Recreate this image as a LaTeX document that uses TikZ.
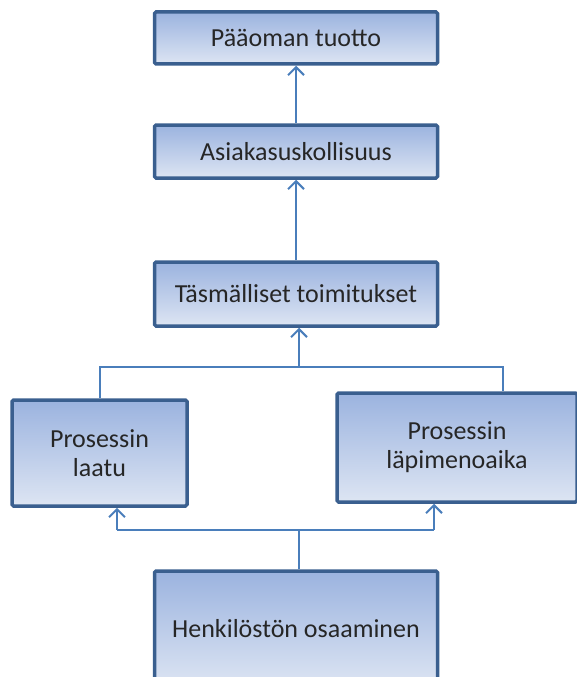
\documentclass[tikz,border=0pt]{standalone}
\usepackage{fontspec}
\setmainfont{Carlito}
\usepackage{tikz}
\usetikzlibrary{arrows.meta}

\definecolor{boxedge}{HTML}{3A5F8F}
\definecolor{boxtop}{HTML}{9BB3DF}
\definecolor{boxbottom}{HTML}{DDE5F3}
\definecolor{linkblue}{HTML}{4A7EBB}

\tikzset{
  kpibox/.style={rectangle, draw=boxedge, line width=3.5pt, rounded corners=1.5pt,
    top color=boxtop, bottom color=boxbottom, text=black!85,
    font=\fontsize{26}{29}\selectfont, align=center, inner sep=0pt},
  link/.style={linkblue, line width=2pt},
  uparrow/.style={link, -{Straight Barb[length=8pt,width=16pt,line width=2pt]}}
}

\begin{document}
\begin{tikzpicture}[x=1pt,y=-1pt]
\clip (0,0) rectangle (577,677);
\useasboundingbox (0,0) rectangle (577,677);

% Boxes
\node[kpibox, minimum width=283pt, minimum height=52pt] (tuotto) at (296,38) {Pääoman tuotto};
\node[kpibox, minimum width=283pt, minimum height=53pt] (uskoll) at (296,151.5) {Asiakasuskollisuus};
\node[kpibox, minimum width=283pt, minimum height=64pt] (toimit) at (296,294) {Täsmälliset toimitukset};
\node[kpibox, minimum width=175pt, minimum height=106pt] (laatu) at (99.5,453) {Prosessin\\laatu};
\node[kpibox, minimum width=240pt, minimum height=109pt] (lapi) at (457,447.5) {Prosessin\\läpimenoaika};
\node[kpibox, minimum width=283pt, minimum height=116pt] (osaam) at (296,629) {Henkilöstön osaaminen};

% Junction points
\coordinate (jtop) at (299,367);
\coordinate (rtop) at (503,367);
\coordinate (jbot) at (299,530);
\coordinate (lbot) at (117,530);
\coordinate (rbot) at (434,530);

% Upper links
\draw[uparrow] (uskoll) -- (tuotto);
\draw[uparrow] (toimit) -- (uskoll);
\draw[link] (laatu.north) |- (rtop) -- (rtop |- lapi.north);
\draw[uparrow] (jtop) -- (jtop |- toimit.south);

% Lower links
\draw[link] (osaam.north -| jbot) -- (jbot);
\draw[link] (lbot) -- (rbot);
\draw[uparrow] (lbot) -- (lbot |- laatu.south);
\draw[uparrow] (rbot) -- (rbot |- lapi.south);
\end{tikzpicture}
\end{document}
